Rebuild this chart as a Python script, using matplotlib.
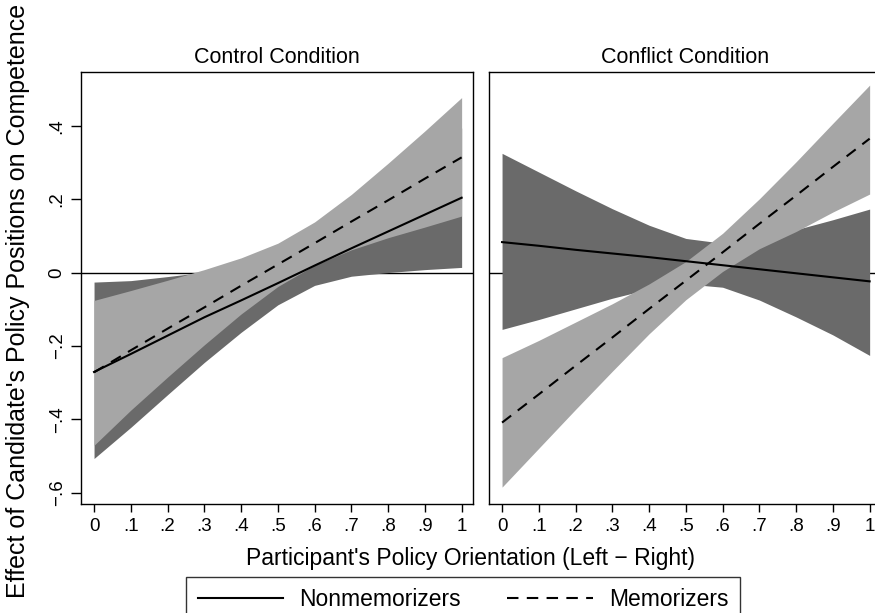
import matplotlib
matplotlib.use('Agg')
from matplotlib import pyplot as plt
from matplotlib.lines import Line2D

plt.rcParams['font.family'] = ['Liberation Sans', 'DejaVu Sans']

orientation = [0.0, 0.1, 0.2, 0.3, 0.4, 0.5, 0.6, 0.7, 0.8, 0.9, 1.0]

# Control condition
control_nonmem = [-0.271, -0.222, -0.172, -0.122, -0.076, -0.029, 0.019, 0.066, 0.112, 0.158, 0.204]
control_nonmem_lo = [-0.507, -0.422, -0.333, -0.245, -0.163, -0.088, -0.035, -0.010, 0.000, 0.008, 0.014]
control_nonmem_hi = [-0.026, -0.022, -0.011, 0.001, 0.013, 0.032, 0.073, 0.141, 0.220, 0.304, 0.394]
control_mem = [-0.272, -0.212, -0.153, -0.095, -0.036, 0.022, 0.080, 0.139, 0.197, 0.256, 0.314]
control_mem_lo = [-0.471, -0.375, -0.285, -0.197, -0.113, -0.038, 0.020, 0.062, 0.095, 0.124, 0.154]
control_mem_hi = [-0.076, -0.049, -0.021, 0.008, 0.040, 0.080, 0.138, 0.213, 0.298, 0.386, 0.477]

# Conflict condition
conflict_nonmem = [0.083, 0.073, 0.062, 0.052, 0.042, 0.031, 0.020, 0.009, -0.002, -0.013, -0.024]
conflict_nonmem_lo = [-0.155, -0.128, -0.099, -0.070, -0.045, -0.031, -0.040, -0.075, -0.121, -0.170, -0.226]
conflict_nonmem_hi = [0.325, 0.274, 0.223, 0.174, 0.129, 0.093, 0.080, 0.093, 0.117, 0.144, 0.173]
conflict_mem = [-0.409, -0.332, -0.254, -0.177, -0.099, -0.022, 0.055, 0.133, 0.210, 0.288, 0.365]
conflict_mem_lo = [-0.585, -0.479, -0.373, -0.269, -0.167, -0.074, 0.003, 0.065, 0.112, 0.165, 0.214]
conflict_mem_hi = [-0.232, -0.185, -0.135, -0.085, -0.031, 0.030, 0.107, 0.201, 0.302, 0.407, 0.511]

x_ticks = [0, 0.1, 0.2, 0.3, 0.4, 0.5, 0.6, 0.7, 0.8, 0.9, 1.0]
x_tick_labels = ['0', '.1', '.2', '.3', '.4', '.5', '.6', '.7', '.8', '.9', '1']
y_ticks = [-0.6, -0.4, -0.2, 0, 0.2, 0.4]
y_tick_labels = ['\u2212.6', '\u2212.4', '\u2212.2', '0', '.2', '.4']

DARK = '#6a6a6a'
LIGHT = '#a6a6a6'
DASH = (0, (5.5, 4))


def draw_panel(ax, title, nonmem, nonmem_lo, nonmem_hi, mem, mem_lo, mem_hi):
    ax.axhline(0, color='black', lw=1.0, zorder=1)
    ax.fill_between(orientation, nonmem_lo, nonmem_hi, color=DARK, lw=0, zorder=2)
    ax.fill_between(orientation, mem_lo, mem_hi, color=LIGHT, lw=0, zorder=3)
    ax.plot(orientation, nonmem, color='black', lw=1.5, zorder=4)
    ax.plot(orientation, mem, color='black', lw=1.5, ls=DASH, zorder=5)
    ax.set_xlim(-0.0354, 1.031)
    ax.set_ylim(-0.631, 0.548)
    ax.set_xticks(x_ticks)
    ax.set_xticklabels(x_tick_labels)
    ax.tick_params(axis='x', labelsize=13.5, length=6, width=1, direction='out', pad=4)
    ax.set_title(title, fontsize=15.5, pad=6)
    for s in ax.spines.values():
        s.set_linewidth(1.0)
        s.set_color('black')


fig = plt.figure(figsize=(8.75, 6.13), dpi=100)
ax1 = fig.add_axes([0.0926, 0.1778, 0.448, 0.7055])
ax2 = fig.add_axes([0.5589, 0.1778, 0.448, 0.7055])

draw_panel(ax1, 'Control Condition', control_nonmem, control_nonmem_lo, control_nonmem_hi,
           control_mem, control_mem_lo, control_mem_hi)
draw_panel(ax2, 'Conflict Condition', conflict_nonmem, conflict_nonmem_lo, conflict_nonmem_hi,
           conflict_mem, conflict_mem_lo, conflict_mem_hi)

ax1.set_yticks(y_ticks)
ax1.set_yticklabels(y_tick_labels, rotation=90, va='center')
ax1.tick_params(axis='y', labelsize=13.5, length=7, width=1, direction='out', pad=4)
ax2.set_yticks([])

fig.text(470 / 875, 1 - 558 / 613, "Participant's Policy Orientation (Left \u2212 Right)",
         ha='center', va='center', fontsize=16.5)
fig.text(18 / 875, 1 - 301 / 613, "Effect of Candidate's Policy Positions on Competence",
         ha='center', va='center', rotation=90, fontsize=18)

handles = [Line2D([], [], color='black', lw=1.5),
           Line2D([], [], color='black', lw=1.5, ls=DASH)]
leg = fig.legend(handles, ['Nonmemorizers', 'Memorizers'], ncol=2,
                 loc='upper center', bbox_to_anchor=(463 / 875, 1 - 577 / 613),
                 fontsize=16.5, frameon=True, fancybox=False, shadow=False,
                 handlelength=3.75, handletextpad=0.7, columnspacing=2.0,
                 borderpad=0.5, borderaxespad=0)
leg.get_frame().set_edgecolor('black')
leg.get_frame().set_linewidth(1.0)

fig.savefig('out.png', dpi=100)
